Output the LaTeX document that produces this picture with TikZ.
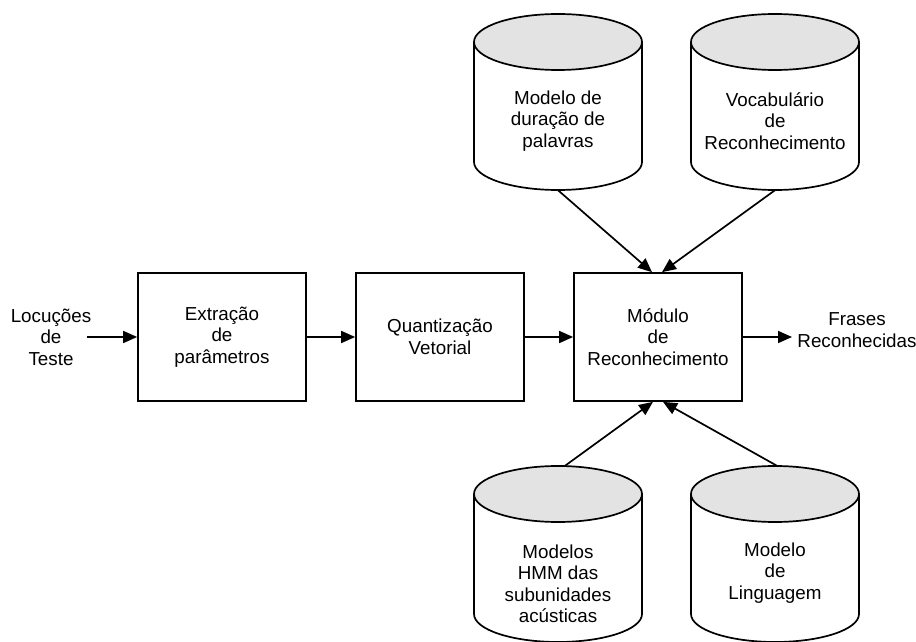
\documentclass[tikz,border=0pt]{standalone}
\usepackage{fontspec}
\setmainfont{Liberation Sans}
\usetikzlibrary{arrows.meta}
\definecolor{cyltop}{RGB}{227,227,227}
\newcommand\cylat[2]{%
  \draw[cylline, fill=white] ({#1-84},{#2+60}) -- ({#1-84},{#2-60})
     arc[start angle=180,end angle=360,x radius=84,y radius=28] -- ({#1+84},{#2+60});
  \draw[cylline, fill=cyltop] (#1,{#2+60}) ellipse[x radius=84,y radius=28];
}
\begin{document}
\begin{tikzpicture}[x=1pt,y=1pt,
  txt/.style={font=\fontsize{18.8}{21.5}\selectfont, align=center, inner sep=0pt},
  blk/.style={draw, line width=1.7pt, minimum width=168pt, minimum height=128pt, txt},
  cylline/.style={line width=1.7pt},
  cylbox/.style={minimum width=168pt, minimum height=176pt, inner sep=0pt},
  arr/.style={line width=1.7pt, -{Triangle[length=14pt,width=12pt]}}]
\useasboundingbox (0,0) rectangle (916,641);
% blocks
\node[blk] (ext) at (222,304) {Extração\\de\\parâmetros};
\node[blk] (qv) at (440,304) {Quantização\\Vetorial};
\node[blk] (mod) at (658,304) {Módulo\\de\\Reconhecimento};
\node[txt] (loc) at (51,304) {Locuções\\de\\Teste};
\node[txt] (fra) at (857,311) {Frases\\Reconhecidas};
\coordinate (locend) at (87,304);
\coordinate (fraend) at (792,304);
% cylinders
\node[cylbox] (c1) at (558,539) {};
\node[cylbox] (c2) at (775,539) {};
\node[cylbox] (c3) at (558,87) {};
\node[cylbox] (c4) at (775,87) {};
\cylat{558}{539}
\cylat{775}{539}
\cylat{558}{87}
\cylat{775}{87}
\node[txt] at (558,520) {Modelo de\\duração de\\palavras};
\node[txt] at (775,520) {Vocabulário\\de\\Reconhecimento};
\node[txt] at (558,57) {Modelos\\HMM das\\subunidades\\acústicas};
\node[txt] at (775,68) {Modelo\\de\\Linguagem};
% connectors
\draw[arr] (locend) -- (ext.west);
\draw[arr] (ext.east) -- (qv.west);
\draw[arr] (qv.east) -- (mod.west);
\draw[arr] (mod.east) -- (fraend);
\draw[arr] (c1.south) -- ([xshift=-6pt]mod.north);
\draw[arr] (c2.south) -- ([xshift=4pt]mod.north);
\draw[arr] ([xshift=7pt,yshift=0pt]c3.north) -- ([xshift=-5pt]mod.south);
\draw[arr] ([xshift=2pt]c4.north) -- ([xshift=5pt]mod.south);
\end{tikzpicture}
\end{document}
